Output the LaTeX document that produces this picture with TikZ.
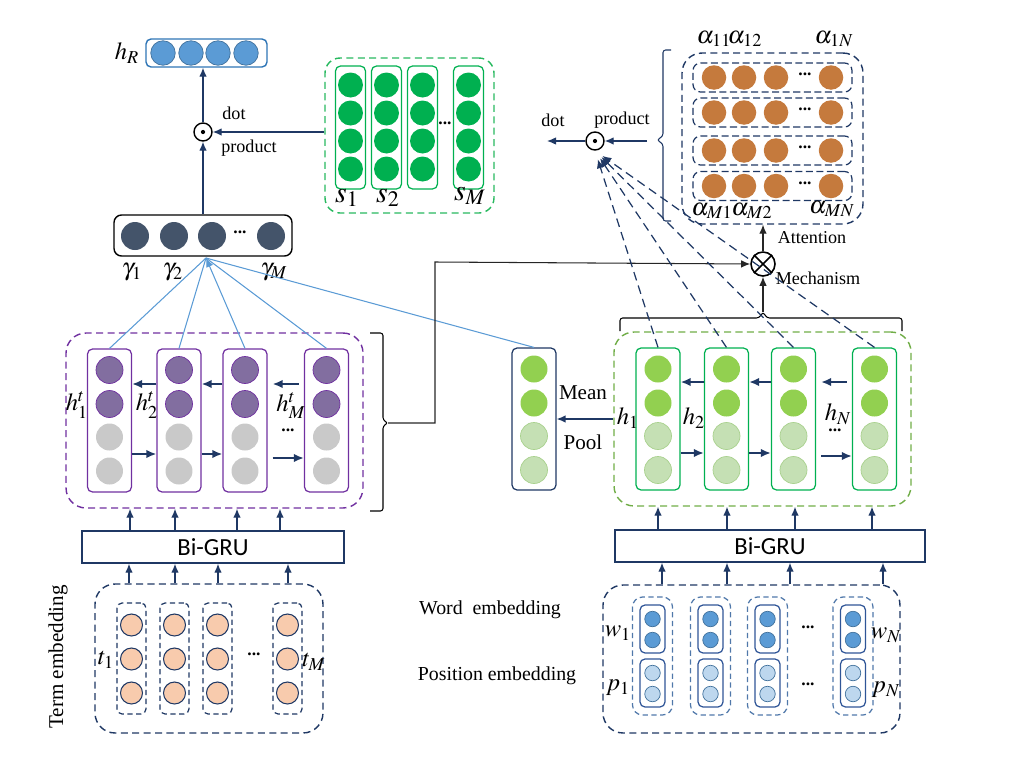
\documentclass[tikz,border=0pt]{standalone}
\usepackage{mathptmx}
\usepackage[no-math]{fontspec}
\setmainfont{Liberation Serif}
\newfontfamily\gruf{Carlito}
\usetikzlibrary{arrows.meta}
\definecolor{navy}{RGB}{31,56,100}
\definecolor{lblue}{RGB}{91,155,213}
\definecolor{hblue}{RGB}{46,117,182}
\definecolor{wfill}{RGB}{91,155,213}
\definecolor{wline}{RGB}{65,113,156}
\definecolor{pfill}{RGB}{189,215,238}
\definecolor{wbox}{RGB}{47,85,151}
\definecolor{wdash}{RGB}{80,120,170}
\definecolor{purp}{RGB}{112,48,160}
\definecolor{purpf}{RGB}{130,110,160}
\definecolor{gryf}{RGB}{201,201,201}
\definecolor{sgreen}{RGB}{0,176,80}
\definecolor{sgreenb}{RGB}{40,185,95}
\definecolor{hgreen}{RGB}{146,208,80}
\definecolor{lgreen}{RGB}{197,224,180}
\definecolor{lgreenb}{RGB}{169,209,142}
\definecolor{dgreen}{RGB}{112,173,71}
\definecolor{orng}{RGB}{197,122,61}
\definecolor{peach}{RGB}{248,203,173}
\definecolor{slate}{RGB}{68,84,106}

\begin{document}
\begin{tikzpicture}[x=0.02cm,y=-0.02cm,font=\fontsize{11.3}{13.5}\selectfont,
  cb/.style={circle,inner sep=0pt,minimum size=#1},
  col/.style={draw,rounded corners=1mm,inner sep=0pt,minimum width=8.8mm,minimum height=28.4mm,line width=0.7pt},
  grp/.style={draw,rounded corners=4mm,inner sep=0pt,line width=0.8pt,dash pattern=on 4pt off 2.5pt},
  arr/.style={-{Latex[length=1.8mm,width=1.5mm]},navy,line width=0.7pt},
  harr/.style={-{Latex[length=2mm,width=1.7mm]},navy,line width=1.1pt},
  karr/.style={-{Latex[length=1.8mm,width=1.5mm]},black!85,line width=0.6pt},
  lab/.style={font=\fontsize{14}{16}\selectfont},
  sm/.style={font=\fontsize{10.3}{12}\selectfont},
  dots/.style={font=\bfseries}]
\useasboundingbox (0,0) rectangle (1018,768);

% h_R
\node[draw=hblue,rounded corners=1mm,minimum width=24.2mm,minimum height=5.6mm,line width=0.8pt] (hR) at (206.5,53) {};
\foreach \x [count=\i] in {163,191,218,246} \node[cb=4.9mm,fill=wfill,draw=wline] (r\i) at (\x,53) {};
\node[lab] (hRl) at (127,53) {$h_R$};

% S matrix
\node[grp,draw=sgreenb,minimum width=33.8mm,minimum height=31mm,rounded corners=3mm] (S) at (409.5,135.5) {};
\foreach \x [count=\i] in {350.5,386.5,422.5,468.5} {
  \node[col,draw=sgreen,minimum width=6mm,minimum height=24.6mm] (s\i) at (\x,127.5) {};
  \foreach \y [count=\j] in {85,113,141,169} \node[cb=5mm,fill=sgreen] (s\i\j) at (\x,\y) {};
}
\node[dots] (sdots) at (445,123) {...};
\node[font=\fontsize{17}{18}\selectfont] (sl1) at (347,198) {$s_1$};
\node[font=\fontsize{17}{18}\selectfont] (sl2) at (388,198) {$s_2$};
\node[font=\fontsize{17}{18}\selectfont] (slM) at (470,196) {$s_M$};

% gamma
\node[draw,rounded corners=1.5mm,line width=0.8pt,minimum width=35.6mm,minimum height=8.2mm] (gam) at (203,235.5) {};
\foreach \x [count=\i] in {135,174,212,271} \node[cb=5.6mm,fill=slate] (g\i) at (\x,236) {};
\node[dots] (gdots) at (240,232) {...};
\node[lab] (gl1) at (132,272) {$\gamma_1$};
\node[lab] (gl2) at (173,272) {$\gamma_2$};
\node[lab] (glM) at (274,272) {$\gamma_M$};
\coordinate (conv) at (206,258);

% dot product left
\node[circle,draw,line width=0.8pt,minimum size=3.6mm,inner sep=0pt] (dotL) at (203,132) {};
\fill (dotL) circle (1.2pt);
\node[sm] (dl1) at (234,113) {dot};
\node[sm] (dl2) at (249,148) {product};
\draw[arr] (gam.north -| dotL) -- (dotL.south);
\draw[arr] (dotL.north) -- (dotL.north |- hR.south);
\draw[arr] (S.west |- dotL) -- (dotL.east);

% term side Bi-GRU
\node[grp,draw=purp,minimum width=59.4mm,minimum height=35mm] (P) at (214.5,420.5) {};
\foreach \x [count=\i] in {109.5,179,245,326.5} {
  \node[col,draw=purp,minimum height=28.6mm] (ht\i) at (\x,420.5) {};
  \node[cb=5.4mm,fill=purpf,draw=purp] (pc\i1) at (\x,370) {};
  \node[cb=5.4mm,fill=purpf,draw=purp] (pc\i2) at (\x,404) {};
  \node[cb=5.4mm,fill=gryf] (pc\i3) at (\x,437) {};
  \node[cb=5.4mm,fill=gryf] (pc\i4) at (\x,471) {};
}
\draw[harr] (ht2.west |- 0,384) -- (ht1.east |- 0,384);
\draw[harr] (ht3.west |- 0,384) -- (ht2.east |- 0,384);
\draw[harr,shorten <=1mm,shorten >=1mm] (ht4.west |- 0,384) -- (ht3.east |- 0,384);
\draw[harr] (ht1.east |- 0,454) -- (ht2.west |- 0,454);
\draw[harr] (ht2.east |- 0,454) -- (ht3.west |- 0,454);
\draw[harr,shorten <=1mm] (ht3.east |- 0,458) -- (ht4.west |- 0,458);
\node[lab] (htl1) at (77,405) {$h_1^t$};
\node[lab] (htl2) at (147,405) {$h_2^t$};
\node[lab] (htlM) at (291,406) {$h_M^t$};
\node[dots] (htdots) at (288,430) {...};
\foreach \i in {1,2,4} \draw[lblue,line width=0.6pt] (ht\i.north) -- (conv);
\draw[lblue,line width=0.6pt,-{Latex[length=1.8mm,width=1.5mm]}] (ht3.north) -- (conv);

\draw[line width=0.6pt,rounded corners=1.5pt] (370,333) -- (383,333) -- (383,420) -- (388,423) -- (383,426) -- (383,511) -- (370,511);
\coordinate (bR) at (388,423);

\node[draw=navy,line width=0.8pt,minimum width=52.4mm,minimum height=6.4mm,font=\gruf\fontsize{14}{16}\selectfont] (bgL) at (213,547) {Bi-GRU};
\foreach \x in {130,175,237,280} \draw[arr] (\x,0 |- bgL.north) -- (\x,0 |- P.south);

% term embedding
\node[grp,draw=navy,minimum width=45.6mm,minimum height=29.8mm] (T) at (209,658.5) {};
\foreach \x [count=\i] in {131.5,174.5,217.5,287.5} {
  \node[col,dash pattern=on 3pt off 2pt,draw=navy,minimum width=5.8mm,minimum height=22.2mm] (t\i) at (\x,658.5) {};
  \foreach \y [count=\j] in {625,659,693} \node[cb=4.4mm,fill=peach,draw=navy,line width=0.6pt] (t\i\j) at (\x,\y) {};
}
\node[dots] (tdots) at (254,654) {...};
\node[lab] (tl1) at (106,660) {$t_1$};
\node[lab] (tlM) at (314,662) {$t_M$};
\node[rotate=90,font=\fontsize{12}{14}\selectfont] (tname) at (58,657) {Term embedding};
\foreach \x in {129,175,218,288} \draw[arr] (\x,0 |- T.north) -- (\x,0 |- bgL.south);

% mean pool
\node[col,draw=navy] (mp) at (534,419) {};
\node[cb=5.4mm,fill=hgreen] (mp1) at (534,369) {};
\node[cb=5.4mm,fill=hgreen] (mp2) at (534,403) {};
\node[cb=5.4mm,fill=lgreen,draw=lgreenb] (mp3) at (534,436) {};
\node[cb=5.4mm,fill=lgreen,draw=lgreenb] (mp4) at (534,470) {};
\node[font=\fontsize{12}{14}\selectfont] (mean) at (583,393) {Mean};
\node[font=\fontsize{12}{14}\selectfont] (pool) at (583,442) {Pool};
\draw[lblue,line width=0.6pt] (mp.north) -- (conv);

% word side Bi-GRU
\node[grp,draw=dgreen,minimum width=59.4mm,minimum height=34.8mm] (G) at (762.5,419) {};
\foreach \x [count=\i] in {658,726.5,793.5,874.5} {
  \node[col,draw=sgreen] (h\i) at (\x,419) {};
  \node[cb=5.4mm,fill=hgreen] (hc\i1) at (\x,369) {};
  \node[cb=5.4mm,fill=hgreen] (hc\i2) at (\x,403) {};
  \node[cb=5.4mm,fill=lgreen,draw=lgreenb] (hc\i3) at (\x,436) {};
  \node[cb=5.4mm,fill=lgreen,draw=lgreenb] (hc\i4) at (\x,470) {};
}
\draw[harr] (h2.west |- 0,382) -- (h1.east |- 0,382);
\draw[harr] (h3.west |- 0,382) -- (h2.east |- 0,382);
\draw[harr,shorten <=1mm,shorten >=1mm] (h4.west |- 0,382) -- (h3.east |- 0,382);
\draw[harr] (h1.east |- 0,453) -- (h2.west |- 0,453);
\draw[harr] (h2.east |- 0,453) -- (h3.west |- 0,453);
\draw[harr,shorten <=1mm] (h3.east |- 0,456) -- (h4.west |- 0,456);
\node[lab] (hl1) at (628,418) {$h_1$};
\node[lab] (hl2) at (694,418) {$h_2$};
\node[lab] (hlN) at (838,414) {$h_N$};
\node[dots] (hdots) at (835,430) {...};
\draw[arr] (G.west |- mp) -- (mp.east);

\draw[line width=0.6pt,rounded corners=1.5pt] (620,331) -- (620,318) -- (759,318) -- (763,312) -- (767,318) -- (902,318) -- (902,331);
\coordinate (bT) at (763,312);

\node[draw=navy,line width=0.8pt,minimum width=62mm,minimum height=6.4mm,font=\gruf\fontsize{14}{16}\selectfont] (bgR) at (770,546) {Bi-GRU};
\foreach \x in {658,727,795,872} \draw[arr] (\x,0 |- bgR.north) -- (\x,0 |- G.south);

% word and position embedding
\node[grp,draw=navy,minimum width=59.4mm,minimum height=29.6mm] (W) at (751.5,659) {};
\foreach \x [count=\i] in {652.5,710.5,767.5,853} {
  \node[col,dash pattern=on 3pt off 2pt,draw=wdash,minimum width=8mm,minimum height=23.6mm,rounded corners=2mm] (e\i) at (\x,656) {};
  \node[col,draw=wbox,minimum width=5mm,minimum height=9.6mm] (w\i) at (\x,629) {};
  \node[col,draw=wbox,minimum width=5mm,minimum height=9.6mm] (p\i) at (\x,683) {};
  \node[cb=3.1mm,fill=wfill,draw=wline] (wc\i1) at (\x,619) {};
  \node[cb=3.1mm,fill=wfill,draw=wline] (wc\i2) at (\x,640) {};
  \node[cb=3.1mm,fill=pfill,draw=wline] (pc\i1) at (\x,673) {};
  \node[cb=3.1mm,fill=pfill,draw=wline] (pc\i2) at (\x,694) {};
}
\node[dots] (wdots) at (808,627) {...};
\node[dots] (pdots) at (808,684) {...};
\node[lab] (wl1) at (618,633) {$w_1$};
\node[lab] (wlN) at (886,635) {$w_N$};
\node[lab] (pl1) at (618,688) {$p_1$};
\node[lab] (plN) at (886,690) {$p_N$};
\node (wname) at (490,610) {Word\ \ embedding};
\node (pname) at (497,676) {Position embedding};
\foreach \x in {662,727,790,883} \draw[arr] (\x,0 |- W.north) -- (\x,0 |- bgR.south);

% attention
\node[grp,draw=navy,minimum width=36.2mm,minimum height=34.2mm] (A) at (772.5,138.5) {};
\foreach \y [count=\j] in {77.5,112.5,150.5,186} {
  \node[col,dash pattern=on 4pt off 2pt,draw=navy,minimum width=31.8mm,minimum height=5.8mm,rounded corners=1.5mm] (a\j) at (772.5,\y) {};
  \foreach \x [count=\i] in {714,744,776,831} \node[cb=4.9mm,fill=orng] (a\j\i) at (\x,\y) {};
  \node[dots] (adots\j) at (805,\y-3) {...};
}
\node[lab] (al11) at (714,39) {$\alpha_{11}$};
\node[lab] (al12) at (745,39) {$\alpha_{12}$};
\node[lab] (al1N) at (834,39) {$\alpha_{1N}$};
\node[lab] (alM1) at (712,211) {$\alpha_{M1}$};
\node[lab] (alM2) at (752,211) {$\alpha_{M2}$};
\node[lab] (alMN) at (832,209) {$\alpha_{MN}$};
\draw[navy,line width=0.6pt,rounded corners=1.5pt] (671,50) -- (663,50) -- (663,136) -- (657,140) -- (663,144) -- (663,221) -- (671,221);
\coordinate (bA) at (647,141);

\node[circle,draw,line width=0.9pt,minimum size=4.8mm,inner sep=0pt] (ot) at (763,264) {};
\draw[line width=0.9pt] (ot.north west) -- (ot.south east) (ot.north east) -- (ot.south west);
\node[sm] (att) at (812,238) {Attention};
\node[sm] (mech) at (818,278) {Mechanism};
\draw[karr] (ot.north) -- (ot.north |- A.south);
\draw[karr] (bT) -- (ot.south);
\draw[karr] (bR) -- (435,423) -- (435,262) -- (ot.west);

% dot product right
\node[circle,draw,line width=0.8pt,minimum size=3.6mm,inner sep=0pt] (dotR) at (595,141) {};
\fill (dotR) circle (1.2pt);
\coordinate (sOut) at (547,141);
\node[sm] (dr1) at (553,120) {dot};
\node[sm] (dr2) at (622,120) {product};
\draw[arr] (bA) -- (dotR.east);
\draw[arr] (dotR.west) -- (sOut);
\foreach \i in {1,...,4} \draw[navy,line width=0.7pt,dash pattern=on 5pt off 3pt,-{Latex[length=1.8mm,width=1.5mm]},shorten >=1.8mm] (h\i.north) -- (dotR.south);
\end{tikzpicture}
\end{document}
